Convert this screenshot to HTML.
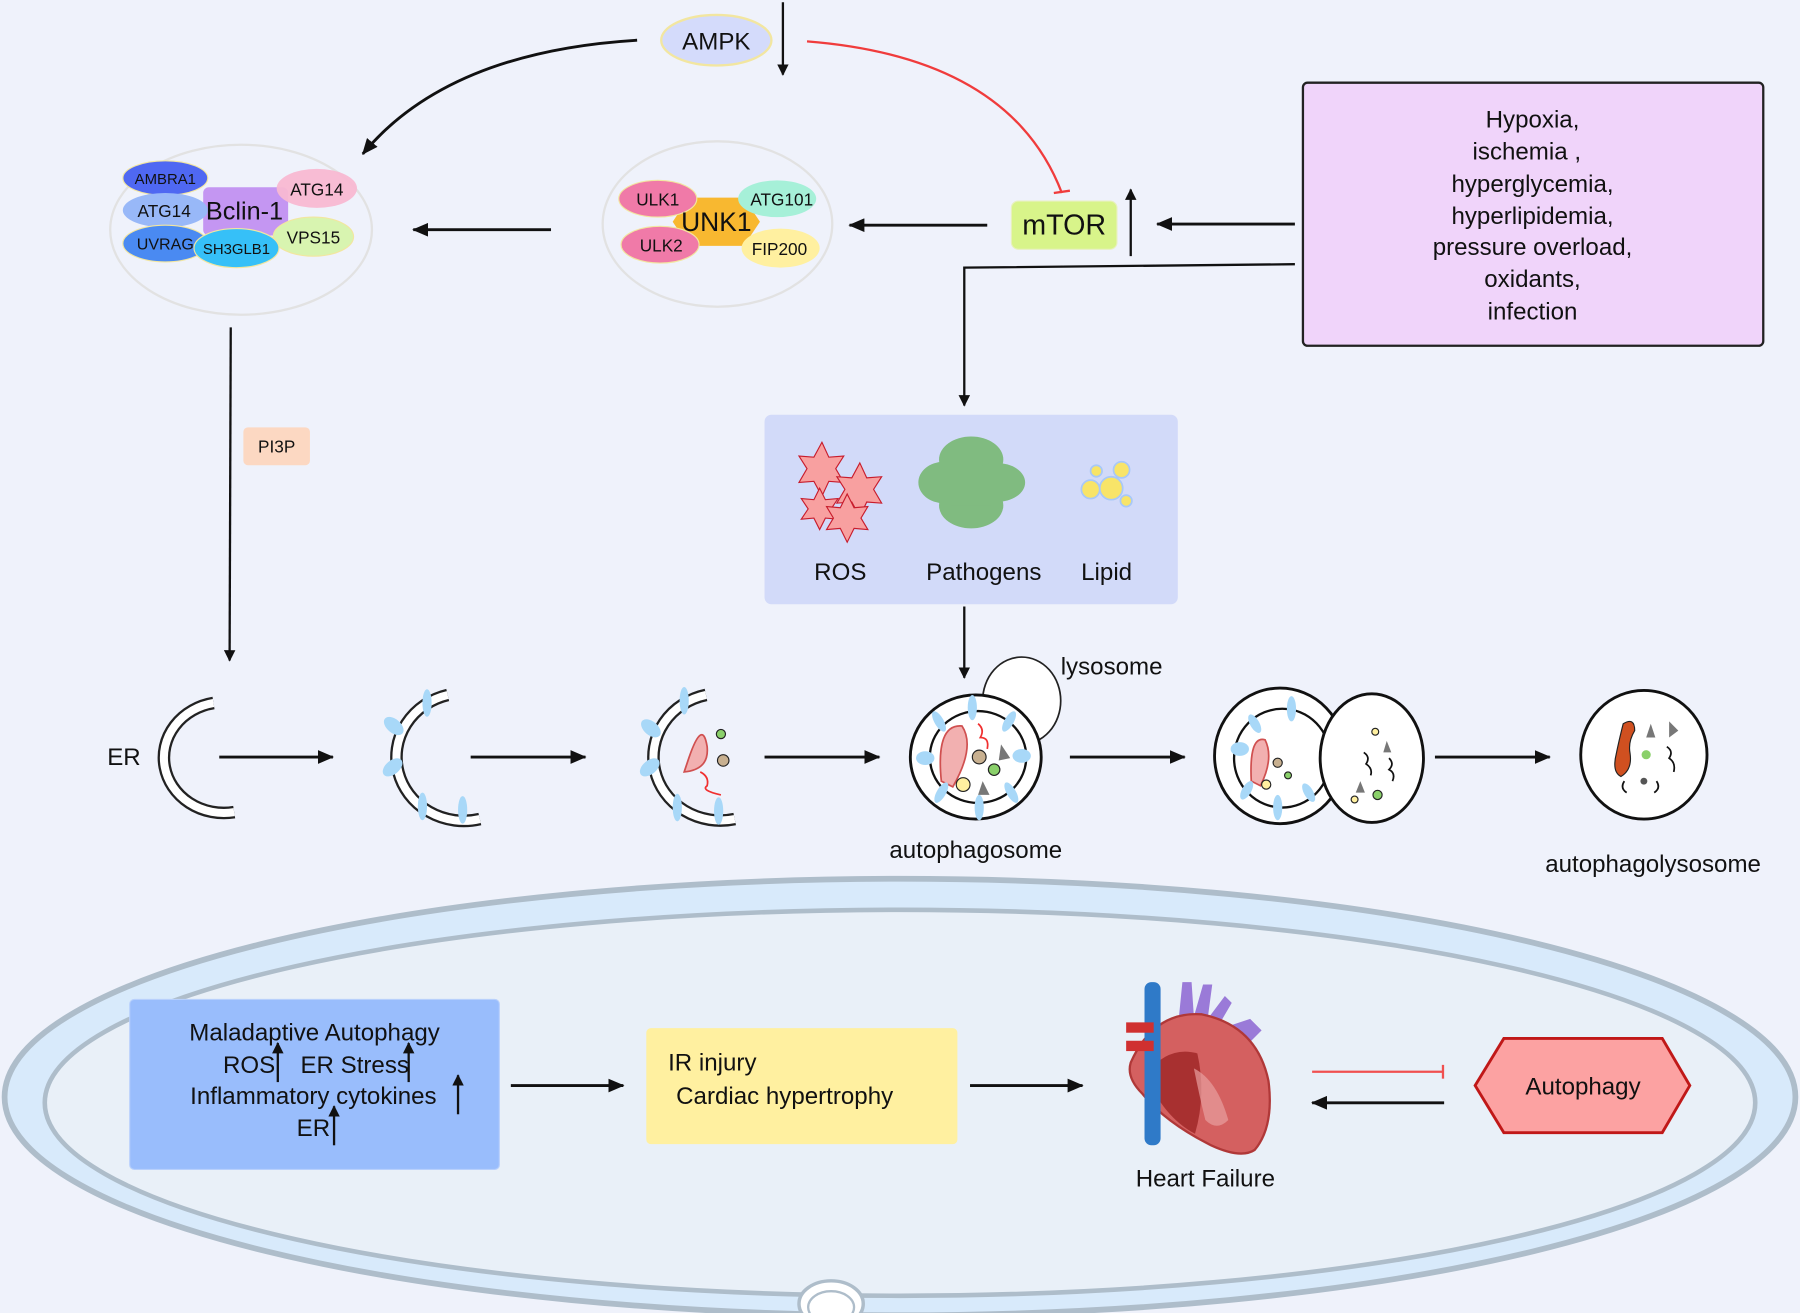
<!DOCTYPE html>
<html><head><meta charset="utf-8"><style>
html,body{margin:0;padding:0;background:#eff2fb;}
svg{display:block}
text{font-family:"Liberation Sans","DejaVu Sans",sans-serif;fill:#111}
</style></head><body>
<svg width="1800" height="1313" viewBox="0 0 1568 1143" preserveAspectRatio="none" xmlns="http://www.w3.org/2000/svg">
<defs>
<marker id="a" markerWidth="10" markerHeight="10" refX="9" refY="5" orient="auto" markerUnits="userSpaceOnUse"><path d="M0,0 L10,5 L0,10 z" fill="#111"/></marker>
<marker id="a2" markerWidth="14" markerHeight="12" refX="13" refY="6" orient="auto" markerUnits="userSpaceOnUse"><path d="M0,0 L14,6 L0,12 z" fill="#111"/></marker>
</defs>
<rect width="1568" height="1143" fill="#eff2fb"/>

<!-- AMPK -->
<ellipse cx="624" cy="35" rx="48" ry="22" fill="#d4dbfb" stroke="#f2e6a0" stroke-width="2"/>
<text x="624" y="43" font-size="21" text-anchor="middle">AMPK</text>
<line x1="682" y1="2" x2="682" y2="65" stroke="#111" stroke-width="2" marker-end="url(#a)"/>
<path d="M555,35 Q390,45 316,134" fill="none" stroke="#111" stroke-width="2.5" marker-end="url(#a2)"/>
<path d="M703,36 Q880,50 925,168" fill="none" stroke="#f03c3c" stroke-width="2"/>
<line x1="918" y1="168" x2="932" y2="166" stroke="#f03c3c" stroke-width="2"/>

<!-- Beclin complex -->
<ellipse cx="210" cy="200" rx="114" ry="74" fill="none" stroke="#e2e2e2" stroke-width="2"/>
<rect x="177" y="163" width="74" height="42" rx="5" fill="#c496f2"/>
<ellipse cx="276" cy="164" rx="35" ry="17" fill="#f8b8d2" opacity="0.95"/>
<ellipse cx="273" cy="206" rx="35" ry="17" fill="#d8f4b0" stroke="#f2e6a0"/>
<ellipse cx="144" cy="155" rx="37" ry="15" fill="#4f68f2" stroke="#f2e6a0"/>
<ellipse cx="144" cy="183" rx="37" ry="15" fill="#98b8f8"/>
<ellipse cx="144" cy="212" rx="37" ry="16" fill="#4a8af2" stroke="#f2e6a0"/>
<ellipse cx="206" cy="216" rx="37" ry="17" fill="#36c0f8" stroke="#f2e6a0"/>
<text x="144" y="160" font-size="13" text-anchor="middle">AMBRA1</text>
<text x="143" y="189" font-size="15" text-anchor="middle">ATG14</text>
<text x="144" y="217" font-size="14" text-anchor="middle">UVRAG</text>
<text x="206" y="221" font-size="13" text-anchor="middle">SH3GLB1</text>
<text x="213" y="191" font-size="22" text-anchor="middle">Bclin-1</text>
<text x="276" y="170" font-size="15" text-anchor="middle">ATG14</text>
<text x="273" y="212" font-size="15" text-anchor="middle">VPS15</text>
<line x1="480" y1="200" x2="360" y2="200" stroke="#111" stroke-width="2.5" marker-end="url(#a2)"/>

<!-- ULK complex -->
<ellipse cx="625" cy="195" rx="100" ry="72" fill="none" stroke="#e2e2e2" stroke-width="2"/>
<polygon points="600,172 648,172 662,193 648,214 600,214 586,193" fill="#f8b830"/>
<ellipse cx="573" cy="173" rx="34" ry="16" fill="#f07aa8" stroke="#f2e6a0"/>
<ellipse cx="677" cy="173" rx="34" ry="16" fill="#a6f0d8"/>
<ellipse cx="575" cy="213" rx="34" ry="16" fill="#f07aa8" stroke="#f2e6a0"/>
<ellipse cx="680" cy="216" rx="34" ry="17" fill="#fff0a0"/>
<text x="573" y="179" font-size="15" text-anchor="middle">ULK1</text>
<text x="681" y="179" font-size="15" text-anchor="middle">ATG101</text>
<text x="576" y="219" font-size="15" text-anchor="middle">ULK2</text>
<text x="679" y="222" font-size="15" text-anchor="middle">FIP200</text>
<text x="624" y="201" font-size="23" text-anchor="middle">UNK1</text>
<line x1="860" y1="196" x2="740" y2="196" stroke="#111" stroke-width="2.5" marker-end="url(#a2)"/>

<!-- mTOR -->
<rect x="881" y="175" width="92" height="42" rx="6" fill="#d8f48a" stroke="#e8f0c0"/>
<text x="927" y="204" font-size="25" text-anchor="middle">mTOR</text>
<line x1="985" y1="223" x2="985" y2="165" stroke="#111" stroke-width="2" marker-end="url(#a)"/>
<line x1="1128" y1="195" x2="1008" y2="195" stroke="#111" stroke-width="2.5" marker-end="url(#a2)"/>

<!-- stimuli box -->
<rect x="1135" y="72" width="401" height="229" rx="4" fill="#f0d4fa" stroke="#222" stroke-width="2"/>
<g font-size="21" text-anchor="middle">
<text x="1335" y="111">Hypoxia,</text>
<text x="1330" y="139">ischemia ,</text>
<text x="1335" y="167">hyperglycemia,</text>
<text x="1335" y="195">hyperlipidemia,</text>
<text x="1335" y="222">pressure overload,</text>
<text x="1335" y="250">oxidants,</text>
<text x="1335" y="278">infection</text>
</g>
<polyline points="1128,230 840,233 840,353" fill="none" stroke="#111" stroke-width="2" marker-end="url(#a)"/>

<!-- ROS / Pathogens / Lipid -->
<rect x="666" y="361" width="360" height="165" rx="6" fill="#d2daf9"/>
<g fill="#f8a0a0" stroke="#c81c2c" stroke-width="1">
<polygon points="716,385 722,398 735,397 728,408 735,420 722,419 716,432 709,419 696,420 703,408 696,397 709,398"/>
<polygon points="749,403 755,416 768,415 761,426 768,438 755,437 749,450 742,437 729,438 736,426 729,415 742,416"/>
<polygon points="714,425 719,435 730,434 724,443 730,452 719,451 714,461 709,451 698,452 704,443 698,434 709,435"/>
<polygon points="738,430 744,442 756,441 750,451 756,461 744,460 738,472 732,460 720,461 726,451 720,441 732,442"/>
</g>
<g fill="#80bb80">
<ellipse cx="846" cy="400" rx="28" ry="20"/>
<ellipse cx="822" cy="420" rx="22" ry="18"/>
<ellipse cx="868" cy="420" rx="25" ry="17"/>
<ellipse cx="846" cy="440" rx="28" ry="20"/>
<rect x="828" y="405" width="36" height="35"/>
</g>
<g fill="#f8e468" stroke="#a8c8f8" stroke-width="1.5">
<circle cx="955" cy="410" r="5"/><circle cx="977" cy="409" r="7"/>
<circle cx="950" cy="426" r="8"/><circle cx="968" cy="425" r="10"/><circle cx="981" cy="436" r="5"/>
</g>
<text x="732" y="505" font-size="21" text-anchor="middle">ROS</text>
<text x="857" y="505" font-size="21" text-anchor="middle">Pathogens</text>
<text x="964" y="505" font-size="21" text-anchor="middle">Lipid</text>
<line x1="840" y1="528" x2="840" y2="590" stroke="#111" stroke-width="2" marker-end="url(#a)"/>

<!-- PI3P -->
<line x1="201" y1="285" x2="200" y2="575" stroke="#111" stroke-width="2" marker-end="url(#a)"/>
<rect x="212" y="372" width="58" height="33" rx="4" fill="#fcd8c2"/>
<text x="241" y="394" font-size="15" text-anchor="middle">PI3P</text>

<!-- ER row -->
<text x="108" y="666" font-size="21" text-anchor="middle">ER</text>
<g fill="none">
<path d="M186,612 A52,48 0 0 0 204,707" stroke="#222" stroke-width="11"/>
<path d="M186,612 A52,48 0 0 0 204,707" stroke="#fff" stroke-width="7"/>
<path d="M390,605 A58,55 0 0 0 418,713" stroke="#222" stroke-width="11"/>
<path d="M390,605 A58,55 0 0 0 418,713" stroke="#fff" stroke-width="7"/>
<path d="M615,605 A58,55 0 0 0 640,713" stroke="#222" stroke-width="11"/>
<path d="M615,605 A58,55 0 0 0 640,713" stroke="#fff" stroke-width="7"/>
</g>
<g fill="#a8d8f8">
<ellipse cx="372" cy="612" rx="4" ry="12"/><ellipse cx="343" cy="632" rx="10" ry="6" transform="rotate(40 343 632)"/>
<ellipse cx="342" cy="668" rx="10" ry="6" transform="rotate(-40 342 668)"/><ellipse cx="368" cy="702" rx="4" ry="12"/><ellipse cx="403" cy="705" rx="4" ry="12"/>
<ellipse cx="596" cy="610" rx="4" ry="12"/><ellipse cx="567" cy="634" rx="10" ry="6" transform="rotate(40 567 634)"/>
<ellipse cx="566" cy="668" rx="10" ry="6" transform="rotate(-40 566 668)"/><ellipse cx="590" cy="703" rx="4" ry="12"/><ellipse cx="626" cy="706" rx="4" ry="12"/>
</g>
<path d="M600,660 Q612,625 616,650 Q618,670 596,672 Z" fill="#f2b0b0" stroke="#d05050" stroke-width="1.5"/>
<circle cx="628" cy="639" r="4" fill="#8ad06a" stroke="#222"/>
<circle cx="630" cy="662" r="5" fill="#c8b090" stroke="#222"/>
<path d="M610,672 q8,4 6,12 q-6,4 12,8" fill="none" stroke="#f03030" stroke-width="1.5"/>
<g stroke="#111" stroke-width="2.5" marker-end="url(#a2)">
<line x1="191" y1="659" x2="290" y2="659"/>
<line x1="410" y1="659" x2="510" y2="659"/>
<line x1="666" y1="659" x2="766" y2="659"/>
<line x1="932" y1="659" x2="1032" y2="659"/>
<line x1="1250" y1="659" x2="1350" y2="659"/>
</g>

<!-- autophagosome -->
<ellipse cx="890" cy="610" rx="34" ry="38" fill="#fff" stroke="#222" stroke-width="1.5"/>
<text x="924" y="587" font-size="21">lysosome</text>
<ellipse cx="850" cy="659" rx="57" ry="54" fill="#fff" stroke="#111" stroke-width="2.5"/>
<ellipse cx="852" cy="659" rx="42" ry="40" fill="#fff" stroke="#111" stroke-width="2"/>
<path d="M820,680 Q815,630 838,632 Q850,650 830,685 Z" fill="#f2b0b0" stroke="#d05050" stroke-width="1.5"/>
<circle cx="853" cy="659" r="6" fill="#c8b090" stroke="#222"/>
<circle cx="866" cy="670" r="5" fill="#8ad06a" stroke="#222"/>
<circle cx="839" cy="683" r="6" fill="#fff0a0" stroke="#222"/>
<polygon points="872,648 880,660 870,662" fill="#777"/><polygon points="856,680 862,692 852,692" fill="#777"/>
<path d="M852,630 q6,5 2,12 q8,0 6,10" fill="none" stroke="#f03030" stroke-width="1.5"/>
<g fill="#a8d8f8">
<ellipse cx="847" cy="616" rx="4" ry="11"/><ellipse cx="879" cy="628" rx="4" ry="10" transform="rotate(30 879 628)"/>
<ellipse cx="890" cy="658" rx="8" ry="6"/><ellipse cx="881" cy="690" rx="4" ry="10" transform="rotate(-30 881 690)"/>
<ellipse cx="853" cy="703" rx="4" ry="11"/><ellipse cx="820" cy="690" rx="4" ry="10" transform="rotate(30 820 690)"/>
<ellipse cx="806" cy="660" rx="8" ry="6"/><ellipse cx="818" cy="628" rx="4" ry="10" transform="rotate(-30 818 628)"/>
</g>
<text x="850" y="747" font-size="21" text-anchor="middle">autophagosome</text>

<!-- fusion -->
<ellipse cx="1115" cy="658" rx="57" ry="59" fill="#fff" stroke="#111" stroke-width="2.5"/>
<ellipse cx="1117" cy="660" rx="42" ry="43" fill="#fff" stroke="#111" stroke-width="2"/>
<ellipse cx="1195" cy="660" rx="45" ry="56" fill="#fff" stroke="#111" stroke-width="2.5"/>
<path d="M1090,680 Q1088,640 1102,644 Q1110,660 1098,684 Z" fill="#f2b0b0" stroke="#d05050" stroke-width="1.5"/>
<circle cx="1113" cy="664" r="4" fill="#c8b090" stroke="#222"/><circle cx="1103" cy="683" r="4" fill="#fff0a0" stroke="#222"/>
<circle cx="1122" cy="675" r="3" fill="#8ad06a" stroke="#222"/><circle cx="1200" cy="692" r="4" fill="#8ad06a" stroke="#222"/>
<circle cx="1198" cy="637" r="3" fill="#fff0a0" stroke="#222"/><circle cx="1180" cy="696" r="3" fill="#fff0a0" stroke="#222"/>
<path d="M1188,655 q6,4 2,10 q6,4 4,10 M1210,660 q5,5 0,10 q6,3 3,10" fill="none" stroke="#111" stroke-width="1.5"/>
<polygon points="1208,645 1212,655 1205,655" fill="#777"/><polygon points="1185,680 1189,690 1181,690" fill="#777"/>
<g fill="#a8d8f8">
<ellipse cx="1125" cy="617" rx="4" ry="11"/><ellipse cx="1093" cy="630" rx="4" ry="9" transform="rotate(-30 1093 630)"/>
<ellipse cx="1080" cy="652" rx="8" ry="6"/><ellipse cx="1086" cy="688" rx="4" ry="9" transform="rotate(30 1086 688)"/>
<ellipse cx="1113" cy="703" rx="4" ry="11"/><ellipse cx="1140" cy="690" rx="4" ry="9" transform="rotate(-30 1140 690)"/>
</g>

<!-- autophagolysosome -->
<ellipse cx="1432" cy="657" rx="55" ry="56" fill="#fff" stroke="#111" stroke-width="2.5"/>
<path d="M1414,630 q10,-6 10,6 q-6,10 -4,20 q2,14 -8,20 q-8,-4 -4,-20 q2,-10 6,-26 z" fill="#d05020" stroke="#222"/>
<polygon points="1438,630 1442,642 1434,642" fill="#777"/><polygon points="1454,628 1462,636 1454,642" fill="#777"/>
<circle cx="1434" cy="657" r="4" fill="#8ad06a"/><circle cx="1432" cy="680" r="3" fill="#555"/>
<path d="M1452,650 q6,4 2,10 q6,4 4,12 M1415,680 q-4,6 2,10 M1443,680 q4,6 -2,10" fill="none" stroke="#111" stroke-width="1.5"/>
<text x="1440" y="759" font-size="21" text-anchor="middle">autophagolysosome</text>

<!-- cell -->
<ellipse cx="784" cy="955" rx="780" ry="190" fill="#d8eafb" stroke="#aebdca" stroke-width="5"/>
<ellipse cx="784" cy="960" rx="745" ry="168" fill="#e9f0f8" stroke="#aebdca" stroke-width="4"/>
<ellipse cx="724" cy="1135" rx="28" ry="20" fill="#fff" stroke="#aebdca" stroke-width="3"/>
<ellipse cx="724" cy="1138" rx="20" ry="14" fill="#fff" stroke="#aebdca" stroke-width="2"/>

<rect x="113" y="870" width="322" height="148" rx="4" fill="#99bdfc" stroke="#b8d0fc"/>
<g font-size="21" text-anchor="middle">
<text x="274" y="906">Maladaptive Autophagy</text>
<text x="217" y="934">ROS</text><text x="309" y="934">ER Stress</text>
<text x="273" y="961">Inflammatory cytokines</text>
<text x="273" y="989">ER</text>
</g>
<g stroke="#111" stroke-width="2" marker-end="url(#a)">
<line x1="242" y1="942" x2="242" y2="908"/><line x1="356" y1="942" x2="356" y2="908"/>
<line x1="399" y1="970" x2="399" y2="936"/><line x1="291" y1="997" x2="291" y2="963"/>
</g>
<line x1="445" y1="945" x2="543" y2="945" stroke="#111" stroke-width="2.5" marker-end="url(#a2)"/>
<rect x="563" y="895" width="271" height="101" rx="4" fill="#fff0a0"/>
<text x="582" y="932" font-size="21">IR injury</text>
<text x="589" y="961" font-size="21">Cardiac hypertrophy</text>
<line x1="845" y1="945" x2="943" y2="945" stroke="#111" stroke-width="2.5" marker-end="url(#a2)"/>

<!-- heart -->
<path d="M1025,905 l5,-50 l8,0 l2,30 l8,-28 l8,0 l-4,30 l15,-20 l6,6 l-14,24 l30,-10 l10,10 l-20,20 q-30,10 -54,-12 z" fill="#9a7ad8"/>
<path d="M985,925 q20,-45 62,-42 q48,10 58,58 q5,40 -12,60 q-12,8 -38,-4 q-40,-20 -60,-45 q-14,-14 -10,-27 z" fill="#d46060" stroke="#b03838" stroke-width="2"/>
<path d="M998,935 q20,-25 45,-18 q8,35 -2,70 q-28,-15 -43,-52 z" fill="#a83030"/>
<path d="M1040,930 q20,10 30,45 q-10,10 -20,0 q-5,-20 -10,-45z" fill="#e8a0a0" opacity="0.7"/>
<rect x="997" y="855" width="14" height="142" rx="6" fill="#2f7ac8"/>
<rect x="981" y="890" width="24" height="9" fill="#d03030"/><rect x="981" y="906" width="24" height="9" fill="#d03030"/>
<text x="1050" y="1033" font-size="21" text-anchor="middle">Heart Failure</text>

<line x1="1143" y1="933" x2="1257" y2="933" stroke="#f05050" stroke-width="2"/>
<line x1="1257" y1="927" x2="1257" y2="939" stroke="#f05050" stroke-width="2"/>
<line x1="1258" y1="960" x2="1143" y2="960" stroke="#111" stroke-width="2.5" marker-end="url(#a2)"/>
<polygon points="1310,904 1448,904 1472,945 1448,986 1310,986 1285,945" fill="#fca2a2" stroke="#c01818" stroke-width="2.5"/>
<text x="1379" y="953" font-size="21" text-anchor="middle">Autophagy</text>
</svg>
</body></html>
